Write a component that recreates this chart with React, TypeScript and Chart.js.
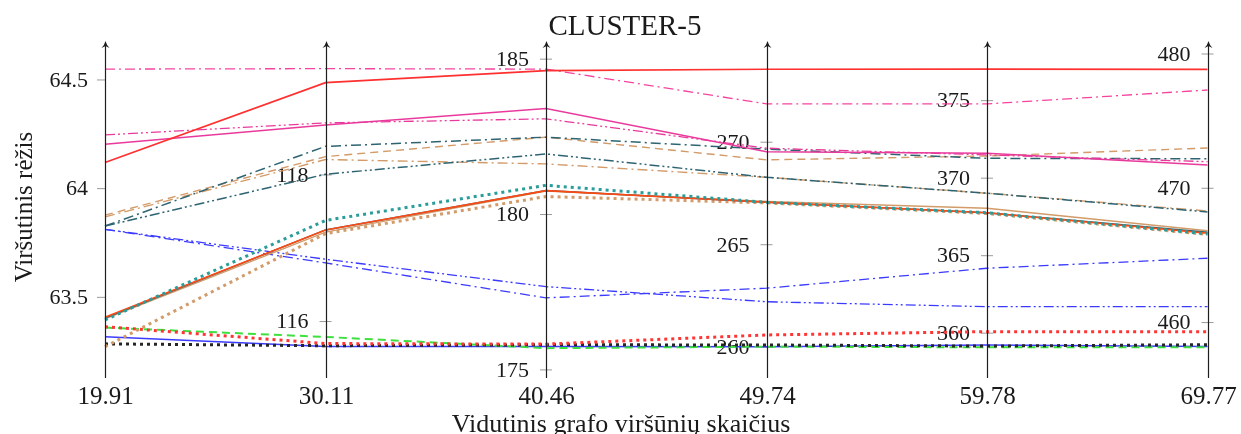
import React, { useEffect, useRef } from 'react';
import { Chart, registerables } from 'chart.js';

Chart.register(...registerables);

// Average vertex count for each parallel axis
const vertexCounts = ['19.91', '30.11', '40.46', '49.74', '59.78', '69.77'];

// Value range and tick marks of each vertical axis
const axisMin = [63.129, 115.23, 174.74, 258.5, 357.11, 455.87];
const axisMax = [64.67, 119.8, 185.52, 274.84, 378.72, 480.82];
const axisTicks = [
  [63.5, 64, 64.5],
  [116, 118],
  [175, 180, 185],
  [260, 265, 270],
  [360, 365, 370, 375],
  [460, 470, 480],
];

// Upper bound per method, one value per axis
const redSolid = [64.12, 119.26, 184.63, 273.56, 377.03, 478.86];
const pinkDashDot = [64.55, 119.45, 184.68, 271.87, 374.79, 477.32];
const magentaSolid = [64.204, 118.68, 183.41, 269.54, 371.61, 471.73];
const magentaDashDotDot = [64.247, 118.71, 183.08, 269.71, 371.5, 471.98];
const slateDashDot = [63.828, 118.39, 182.49, 269.66, 371.28, 472.2];
const slateDashDotDot = [63.828, 118.01, 181.95, 268.29, 369.03, 468.24];
const tanDashed = [63.878, 118.25, 182.49, 269.14, 371.43, 473.0];
const tanDashDot = [63.87, 118.21, 181.63, 268.29, 369.03, 468.31];
const tealDotted = [63.396, 117.38, 180.94, 267.07, 367.77, 466.6];
const orangeSolid = [63.408, 117.25, 180.77, 267.07, 367.77, 466.65];
const slateSolid = [63.405, 117.25, 180.77, 267.07, 367.77, 466.72];
const tanSolid = [63.401, 117.22, 180.76, 267.11, 368.06, 466.84];
const tanDotted = [63.273, 117.2, 180.58, 267.04, 367.72, 466.56];
const blueDashDot = [63.813, 116.8, 177.32, 262.88, 364.19, 464.79];
const blueDashDotDot = [63.813, 116.85, 177.68, 262.22, 361.71, 461.18];
const greenDashed = [63.361, 115.79, 175.7, 260.03, 359.09, 458.16];
const redDotted = [63.365, 115.7, 175.83, 260.6, 360.1, 459.32];
const blueSolid = [63.319, 115.66, 175.75, 260.03, 359.24, 458.21];
const blackDotted = [63.286, 115.67, 175.81, 260.11, 359.17, 458.35];

const SERIF = '"Liberation Serif", "DejaVu Serif", serif';

// Each axis has its own range; values are expressed in units of the first axis
// so every polyline can be plotted against a single y scale.
const onFirstAxis = (vals: number[]) =>
  vals.map(
    (v, j) =>
      axisMin[0] + ((v - axisMin[j]) / (axisMax[j] - axisMin[j])) * (axisMax[0] - axisMin[0])
  );

const DASH_DOT = [10, 4, 2, 4];
const DASH_DOT_DOT = [10, 3, 2, 3, 2, 3];
const DASHED = [8, 5];
const DOTTED = [3, 4];

// Earlier entries are painted on top of later ones.
const series = [
  { vals: redSolid, color: '#ff3030', width: 1.7, dash: [] as number[] },
  { vals: pinkDashDot, color: '#f5449f', width: 1.3, dash: DASH_DOT },
  { vals: magentaSolid, color: '#e93a9c', width: 1.5, dash: [] as number[] },
  { vals: magentaDashDotDot, color: '#e93a9c', width: 1.3, dash: DASH_DOT_DOT },
  { vals: slateDashDot, color: '#2e6472', width: 1.5, dash: DASH_DOT },
  { vals: slateDashDotDot, color: '#2e6472', width: 1.5, dash: DASH_DOT_DOT },
  { vals: tanDashed, color: '#d29b69', width: 1.4, dash: DASHED },
  { vals: tanDashDot, color: '#d29b69', width: 1.4, dash: DASH_DOT },
  { vals: tealDotted, color: '#2a9d9a', width: 3, dash: DOTTED },
  { vals: orangeSolid, color: '#ff4a14', width: 1.6, dash: [] as number[] },
  { vals: slateSolid, color: '#2e6472', width: 1.5, dash: [] as number[] },
  { vals: tanSolid, color: '#d29b69', width: 1.5, dash: [] as number[] },
  { vals: tanDotted, color: '#d29b69', width: 3, dash: DOTTED },
  { vals: blueDashDot, color: '#3b3bff', width: 1.3, dash: DASH_DOT },
  { vals: blueDashDotDot, color: '#3b3bff', width: 1.3, dash: DASH_DOT_DOT },
  { vals: redDotted, color: '#ff3535', width: 3, dash: DOTTED },
  { vals: blackDotted, color: '#262626', width: 3, dash: DOTTED },
  { vals: greenDashed, color: '#3ee03e', width: 2, dash: DASHED },
  { vals: blueSolid, color: '#3b3bff', width: 1.5, dash: [] as number[] },
];

const parallelAxes = {
  id: 'parallelAxes',
  beforeDatasetsDraw(chart: any) {
    const { ctx, scales } = chart;
    const xs = scales.x;
    ctx.save();
    axisTicks.forEach((ticks, j) => {
      const sc = scales['y' + j];
      const ax = xs.getPixelForValue(j);
      ticks.forEach((t) => {
        const py = sc.getPixelForValue(t);
        ctx.strokeStyle = '#9a9a9a';
        ctx.lineWidth = 1;
        ctx.beginPath();
        if (j === 0) {
          ctx.moveTo(ax - 8, py);
          ctx.lineTo(ax, py);
        } else {
          ctx.moveTo(ax - 6, py);
          ctx.lineTo(ax + 6, py);
        }
        ctx.stroke();
        ctx.fillStyle = '#1a1a1a';
        ctx.font = '22px ' + SERIF;
        ctx.textAlign = 'right';
        ctx.textBaseline = 'middle';
        ctx.fillText(String(t), ax - 17, py + 1);
      });
    });
    ctx.restore();
  },
  afterDatasetsDraw(chart: any) {
    const { ctx, scales, chartArea } = chart;
    const xs = scales.x;
    ctx.save();
    vertexCounts.forEach((label, j) => {
      const ax = Math.round(xs.getPixelForValue(j)) + 0.5;
      const top = chartArea.top;
      ctx.strokeStyle = '#1e1e1e';
      ctx.lineWidth = 1.2;
      ctx.beginPath();
      ctx.moveTo(ax, chartArea.bottom);
      ctx.lineTo(ax, top + 2);
      ctx.stroke();
      // arrow head
      ctx.fillStyle = '#1e1e1e';
      ctx.beginPath();
      ctx.moveTo(ax, top - 2);
      ctx.quadraticCurveTo(ax + 1, top + 2, ax + 4, top + 5);
      ctx.lineTo(ax, top + 3);
      ctx.lineTo(ax - 4, top + 5);
      ctx.quadraticCurveTo(ax - 1, top + 2, ax, top - 2);
      ctx.fill();
      // category label
      ctx.fillStyle = '#1a1a1a';
      ctx.font = '25px ' + SERIF;
      ctx.textAlign = 'center';
      ctx.textBaseline = 'alphabetic';
      ctx.fillText(label, ax, 404);
    });

    // titles
    ctx.fillStyle = '#1a1a1a';
    ctx.textAlign = 'center';
    ctx.textBaseline = 'alphabetic';
    ctx.font = '29px ' + SERIF;
    ctx.fillText('CLUSTER-5', 625, 35);
    ctx.font = '26px ' + SERIF;
    ctx.fillText('Vidutinis grafo viršūnių skaičius', 621, 432);
    ctx.translate(32, 207);
    ctx.rotate(-Math.PI / 2);
    ctx.font = '25px ' + SERIF;
    ctx.fillText('Viršutinis rėžis', 0, 0);
    ctx.restore();
  },
};

export default function App() {
  const canvasRef = useRef<HTMLCanvasElement | null>(null);

  useEffect(() => {
    if (!canvasRef.current) return;
    const yScales: Record<string, any> = {};
    axisMin.forEach((mn, j) => {
      yScales['y' + j] = { type: 'linear', display: false, min: mn, max: axisMax[j] };
    });
    const chart = new Chart(canvasRef.current, {
      type: 'line',
      data: {
        labels: vertexCounts,
        datasets: series.map((s, i) => ({
          label: 'series' + i,
          data: onFirstAxis(s.vals),
          yAxisID: 'y0',
          borderColor: s.color,
          borderWidth: s.width,
          borderDash: s.dash,
          borderCapStyle: 'butt',
          pointRadius: 0,
          tension: 0,
          fill: false,
          clip: false,
        })),
      },
      options: {
        animation: false,
        responsive: false,
        layout: { padding: { left: 105, right: 33.5, top: 43, bottom: 56 } },
        plugins: {
          legend: { display: false },
          title: { display: false },
          tooltip: { enabled: false },
        },
        scales: {
          x: { type: 'category', display: false, offset: false },
          ...yScales,
        },
      },
      plugins: [parallelAxes],
    });
    return () => chart.destroy();
  }, []);

  return (
    <div style={{ position: 'absolute', left: 0, top: 0, width: 1241, height: 434, background: '#fff' }}>
      <canvas ref={canvasRef} width={1241} height={434} style={{ display: 'block' }} />
    </div>
  );
}
